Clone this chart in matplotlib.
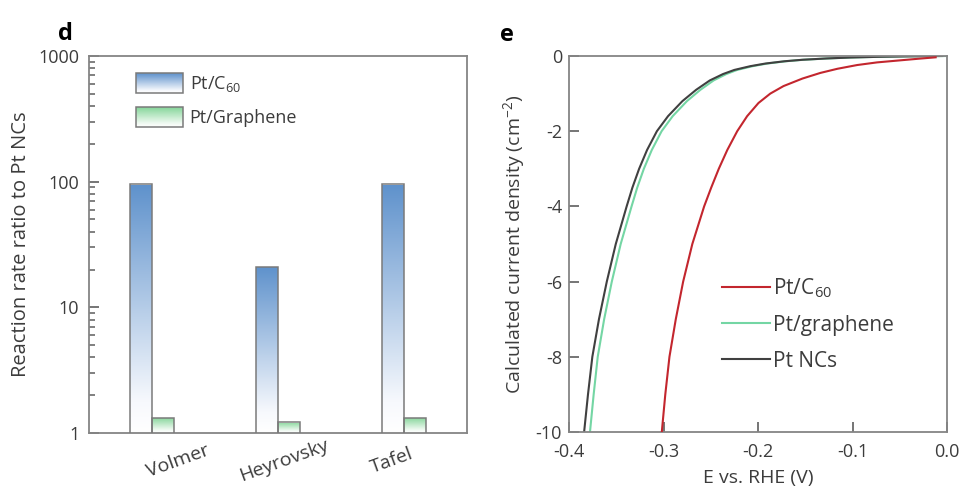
import numpy as np
import matplotlib
matplotlib.use("Agg")
import matplotlib.pyplot as plt
from matplotlib.colors import LinearSegmentedColormap
from matplotlib.patches import Rectangle
from matplotlib.legend_handler import HandlerBase
from matplotlib.image import BboxImage
from matplotlib.transforms import Bbox, TransformedBbox

plt.rcParams["font.family"] = ["Open Sans", "DejaVu Sans"]
plt.rcParams["mathtext.fontset"] = "custom"
plt.rcParams["mathtext.rm"] = "Open Sans"
plt.rcParams["mathtext.it"] = "Open Sans:italic"
plt.rcParams["mathtext.default"] = "regular"
plt.rcParams["axes.unicode_minus"] = False

# ---------------- data: panel d ----------------
steps = ["Volmer", "Heyrovsky", "Tafel"]
ratio_c60 = [95, 21, 95]
ratio_graphene = [1.32, 1.22, 1.32]
log_ticks = [1, 10, 100, 1000]
log_tick_labels = ["1", "10", "100", "1000"]

# ---------------- data: panel e ----------------
j_nc = [-10, -9, -8, -7, -6, -5, -4, -3.5, -3, -2.5, -2, -1.6, -1.2, -0.9, -0.65,
        -0.48, -0.37, -0.27, -0.2, -0.14, -0.1, -0.065, -0.04, -0.022, -0.01, 0]
E_nc = [-0.3840, -0.3799, -0.3753, -0.3683, -0.3600, -0.3505, -0.3390, -0.3329,
        -0.3258, -0.3174, -0.3070, -0.2952, -0.2800, -0.2655, -0.2510, -0.2370,
        -0.2250, -0.2080, -0.1920, -0.1720, -0.1530, -0.1270, -0.1020, -0.0730,
        -0.0430, -0.0050]

j_gr = [-10, -9, -8, -7, -6, -5, -4, -3.5, -3, -2.5, -2, -1.6, -1.2, -0.9, -0.65,
        -0.48, -0.37, -0.27, -0.2, -0.14, -0.1, -0.065, -0.04, -0.022, -0.01, 0]
E_gr = [-0.3778, -0.3739, -0.3696, -0.3628, -0.3547, -0.3453, -0.3338, -0.3278,
        -0.3208, -0.3124, -0.3020, -0.2903, -0.2752, -0.2610, -0.2470, -0.2335,
        -0.2220, -0.2055, -0.1900, -0.1705, -0.1520, -0.1265, -0.1015, -0.0725,
        -0.0425, 0.0]

j_c60 = [-10, -9, -8, -7, -6, -5, -4, -3.5, -3, -2.5, -2, -1.6, -1.25, -1.0, -0.8,
         -0.6, -0.45, -0.34, -0.24, -0.17, -0.11, -0.07, -0.035]
E_c60 = [-0.3018, -0.2981, -0.2937, -0.2870, -0.2792, -0.2695, -0.2570, -0.2495,
         -0.2415, -0.2325, -0.2220, -0.2115, -0.1995, -0.1870, -0.1730, -0.1530,
         -0.1340, -0.1160, -0.0950, -0.0740, -0.0470, -0.0290, -0.0120]

e_ticks = [-0.4, -0.3, -0.2, -0.1, 0.0]
e_tick_labels = ["-0.4", "-0.3", "-0.2", "-0.1", "0.0"]
j_ticks = [0, -2, -4, -6, -8, -10]
j_tick_labels = ["0", "-2", "-4", "-6", "-8", "-10"]

# ---------------- styling ----------------
TEXT = "#3c3c3c"
SPINE = "#858585"
TICK = "#5e5e5e"
EDGE = "#7a7a7a"
blue_cmap = LinearSegmentedColormap.from_list(
    "blue_fade", [(0.0, "#ffffff"), (0.12, "#f7f9fd"), (1.0, "#5f92cc")])
green_cmap = LinearSegmentedColormap.from_list(
    "green_fade", [(0.0, "#ffffff"), (0.2, "#eef9f0"), (1.0, "#86d69a")])
RED = "#c3262e"
MINT = "#74d6a4"
DARK = "#404040"


class GradientHandler(HandlerBase):
    """Legend key drawn as a vertical colour fade with a grey outline."""

    def __init__(self, cmap):
        super().__init__()
        self.cmap = cmap

    def create_artists(self, legend, orig_handle, xdescent, ydescent,
                       width, height, fontsize, trans):
        x0, y0 = -xdescent, -ydescent
        bb = TransformedBbox(Bbox.from_bounds(x0, y0, width, height), trans)
        img = BboxImage(bb, cmap=self.cmap, interpolation="bilinear", origin="upper")
        img.set_data(np.linspace(1, 0, 64).reshape(-1, 1))
        img.set_clim(0, 1)
        rect = Rectangle((x0, y0), width, height, facecolor="none",
                         edgecolor=EDGE, lw=1.1, transform=trans)
        return [img, rect]


def style_axes(ax):
    for s in ax.spines.values():
        s.set_color(SPINE)
        s.set_linewidth(1.3)


fig = plt.figure(figsize=(9.74, 4.86), dpi=100)

# ================= panel d =================
axd = fig.add_axes([89 / 974, 53 / 486, 378 / 974, 377 / 486])
style_axes(axd)
axd.set_yscale("log")
axd.set_ylim(1, 1000)
axd.set_xlim(-0.5, 2.5)

x = np.arange(len(steps))
bar_w = 0.175
xa = x - bar_w / 2
xb = x + bar_w / 2
to_axes = axd.transAxes.inverted()
for xs, vals, cmap in ((xa, ratio_c60, blue_cmap), (xb, ratio_graphene, green_cmap)):
    bars = axd.bar(xs, vals, width=bar_w, facecolor="none", edgecolor=EDGE,
                   lw=1.1, zorder=3)
    for rect, v in zip(bars, vals):
        x0 = rect.get_x()
        x1 = x0 + rect.get_width()
        top = to_axes.transform(axd.transData.transform((x0, v)))[1]
        axd.imshow(np.linspace(0, 1, 128).reshape(-1, 1), cmap=cmap,
                   extent=(x0, x1, 0, top), origin="lower", aspect="auto",
                   transform=axd.get_xaxis_transform(), zorder=2,
                   interpolation="bilinear", vmin=0, vmax=1)
axd.set_yscale("log")
axd.set_ylim(1, 1000)
axd.set_xlim(-0.5, 2.5)

axd.set_yticks(log_ticks)
axd.set_yticklabels(log_tick_labels)
minor_ticks = [m * d for d in log_ticks[:-1] for m in range(2, 10)]
axd.set_yticks(minor_ticks, minor=True)
axd.set_yticklabels([], minor=True)
label_pos = [0.21, 1.05, 1.9]
axd.set_xticks(label_pos)
axd.set_xticklabels(steps, rotation=20, fontsize=14, color=TEXT, va="center")
axd.tick_params(axis="y", which="major", direction="in", length=7, width=1.2,
                color=TICK, labelcolor=TEXT, labelsize=13, pad=7)
axd.tick_params(axis="y", which="minor", direction="in", length=4, width=1.1,
                color=TICK)
axd.tick_params(axis="x", length=0, pad=20)
axd.set_ylabel("Reaction rate ratio to Pt NCs", fontsize=14.5, color=TEXT, labelpad=5)

hA, hB = object(), object()
axd.legend([hA, hB], ["Pt/C$_{60}$", "Pt/Graphene"],
           handler_map={hA: GradientHandler(blue_cmap), hB: GradientHandler(green_cmap)},
           frameon=False, fontsize=13, loc="upper left",
           bbox_to_anchor=(0.125, 0.955), borderpad=0, borderaxespad=0,
           handlelength=2.6, handleheight=1.3, labelspacing=0.75,
           handletextpad=0.35, labelcolor=TEXT)

fig.text(58 / 974, 1 - 40 / 486, "d", fontsize=17, fontweight="bold", color="black")

# ================= panel e =================
axe = fig.add_axes([569 / 974, 54 / 486, 378 / 974, 376 / 486])
style_axes(axe)
axe.plot(E_c60, j_c60, color=RED, lw=1.5, label="Pt/C$_{60}$", zorder=3)
axe.plot(E_gr, j_gr, color=MINT, lw=1.5, label="Pt/graphene", zorder=2)
axe.plot(E_nc, j_nc, color=DARK, lw=1.5, label="Pt NCs", zorder=2.5)
axe.set_xlim(-0.4, 0.0)
axe.set_ylim(-10, 0)
axe.set_xticks(e_ticks)
axe.set_xticklabels(e_tick_labels)
axe.set_yticks(j_ticks)
axe.set_yticklabels(j_tick_labels)
axe.tick_params(axis="both", direction="in", length=7, width=1.2, color=TICK,
                labelcolor=TEXT, labelsize=13)
axe.tick_params(axis="x", pad=8)
axe.tick_params(axis="y", pad=5)
axe.set_xlabel("E vs. RHE (V)", fontsize=14, color=TEXT, labelpad=6)
axe.set_ylabel("Calculated current density (cm$^{-2}$)", fontsize=14, color=TEXT,
               labelpad=6)
axe.legend(frameon=False, fontsize=15, loc="upper left",
           bbox_to_anchor=(0.405, 0.415), borderpad=0, borderaxespad=0,
           handlelength=2.3, handletextpad=0.15, labelspacing=0.72,
           labelcolor=TEXT)

fig.text(500 / 974, 1 - 41 / 486, "e", fontsize=17, fontweight="bold", color="black")

fig.savefig("out.png", dpi=100)
